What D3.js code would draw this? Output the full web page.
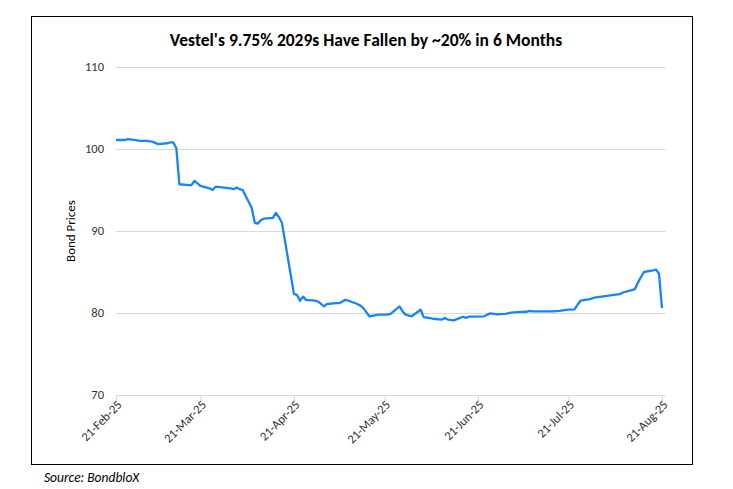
<!DOCTYPE html>
<html><head><meta charset="utf-8">
<script src="https://cdn.jsdelivr.net/npm/d3@7/dist/d3.min.js"></script>
<style>body{margin:0;background:#fff;}svg{display:block;font-family:Carlito,Lato,"Open Sans",sans-serif;}</style>
</head><body><svg id="c" width="733" height="489"></svg>
<script>
const dates = ["2025-02-21","2025-02-24","2025-02-25","2025-02-27","2025-03-01","2025-03-03","2025-03-05","2025-03-07","2025-03-10","2025-03-11","2025-03-12","2025-03-13","2025-03-14","2025-03-17","2025-03-18","2025-03-19","2025-03-20","2025-03-21","2025-03-24","2025-03-25","2025-03-26","2025-03-31","2025-04-01","2025-04-02","2025-04-03","2025-04-04","2025-04-07","2025-04-08","2025-04-09","2025-04-10","2025-04-11","2025-04-14","2025-04-15","2025-04-16","2025-04-17","2025-04-21","2025-04-22","2025-04-23","2025-04-24","2025-04-25","2025-04-28","2025-04-29","2025-05-01","2025-05-02","2025-05-05","2025-05-06","2025-05-08","2025-05-09","2025-05-12","2025-05-13","2025-05-14","2025-05-16","2025-05-19","2025-05-22","2025-05-23","2025-05-26","2025-05-27","2025-05-28","2025-05-30","2025-06-02","2025-06-03","2025-06-06","2025-06-09","2025-06-10","2025-06-11","2025-06-13","2025-06-16","2025-06-17","2025-06-18","2025-06-20","2025-06-23","2025-06-25","2025-06-27","2025-06-30","2025-07-02","2025-07-04","2025-07-07","2025-07-08","2025-07-09","2025-07-16","2025-07-18","2025-07-21","2025-07-23","2025-07-24","2025-07-25","2025-07-28","2025-07-30","2025-08-01","2025-08-05","2025-08-07","2025-08-08","2025-08-11","2025-08-12","2025-08-13","2025-08-15","2025-08-18","2025-08-19","2025-08-20","2025-08-21"];
const prices = [101.1,101.1,101.2,101.1,101.0,101.0,100.9,100.6,100.7,100.8,100.8,100.1,95.7,95.6,95.6,96.1,95.8,95.5,95.2,95.0,95.4,95.2,95.1,95.3,95.1,95.0,92.8,91.0,90.9,91.3,91.5,91.6,92.2,91.7,91.0,82.3,82.2,81.5,82.0,81.6,81.5,81.4,80.8,81.1,81.2,81.2,81.6,81.5,81.1,80.9,80.6,79.6,79.8,79.8,79.9,80.8,80.2,79.8,79.6,80.4,79.5,79.3,79.2,79.4,79.2,79.1,79.55,79.4,79.55,79.55,79.6,79.95,79.85,79.9,80.05,80.1,80.15,80.25,80.2,80.2,80.25,80.4,80.45,81.0,81.5,81.7,81.9,82.0,82.2,82.3,82.5,82.8,82.9,83.7,85.0,85.2,85.3,84.8,80.6];
const yTicks = [70,80,90,100,110];
const xTickDates = ["2025-02-21","2025-03-21","2025-04-21","2025-05-21","2025-06-21","2025-07-21","2025-08-21"];
const title = "Vestel's 9.75% 2029s Have Fallen by ~20% in 6 Months";
const yLabel = "Bond Prices";
const source = "Source: BondbloX";

const parse = d3.utcParse("%Y-%m-%d");
const data = dates.map((d,i)=>({date:parse(d), v:prices[i]}));
const svg = d3.select("#c");
svg.append("rect").attr("x",31.5).attr("y",16.5).attr("width",661).attr("height",448)
  .attr("fill","#fff").attr("stroke","#000").attr("stroke-width",1);

const x = d3.scaleUtc().domain([parse("2025-02-21"), parse("2025-08-21")]).range([116,662]);
const y = d3.scaleLinear().domain([70,110]).range([395,67]);

svg.append("g").selectAll("line").data(yTicks).join("line")
  .attr("x1",116).attr("x2",666).attr("y1",d=>y(d)+0.5).attr("y2",d=>y(d)+0.5)
  .attr("stroke","#d9d9d9").attr("stroke-width",1);

svg.append("g").selectAll("text").data(yTicks).join("text")
  .attr("x",104).attr("y",d=>y(d)).attr("dy","0.35em").attr("text-anchor","end")
  .attr("font-size",12.5).attr("fill","#333").text(d=>d);

const xAxis = d3.axisBottom(x).tickValues(xTickDates.map(parse)).tickSize(5)
  .tickFormat(d3.utcFormat("%d-%b-%y"));
const gx = svg.append("g").attr("transform","translate(0,395.5)").call(xAxis);
gx.select(".domain").remove();
gx.selectAll(".tick line").attr("stroke","#d9d9d9");
gx.selectAll(".tick text").attr("font-size",12.5).attr("fill","#333")
  .attr("font-family","Carlito,Lato,'Open Sans',sans-serif")
  .attr("text-anchor","end").attr("x",0).attr("y",0).attr("dy","0.35em")
  .attr("transform","translate(3,7) rotate(-45)");

svg.append("path").datum(data)
  .attr("d", d3.line().x(d=>x(d.date)).y(d=>y(d.v)))
  .attr("fill","none").attr("stroke","#1784f7").attr("stroke-width",2.3).attr("stroke-linejoin","round");

svg.append("text").attr("x",366).attr("y",46).attr("text-anchor","middle")
  .attr("font-size",17.5).attr("font-weight","bold").attr("fill","#000").text(title);
svg.append("text").attr("transform","translate(75,231) rotate(-90)").attr("text-anchor","middle")
  .attr("font-size",13).attr("fill","#000").text(yLabel);
svg.append("text").attr("x",44).attr("y",482).attr("font-size",13.5).attr("font-style","italic")
  .attr("fill","#000").text(source);
</script></body></html>
